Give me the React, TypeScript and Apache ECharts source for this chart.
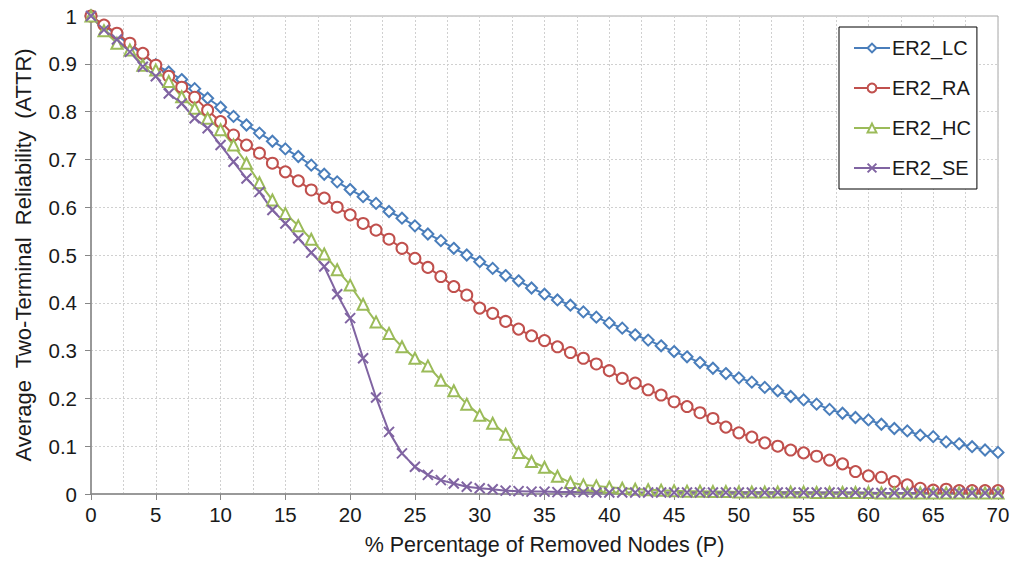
import React, { useEffect, useRef } from "react";
import * as echarts from "echarts";

const xValues: number[] = Array.from({ length: 71 }, (_, i) => i);

const lcValues: number[] = [
  1.0, 0.98, 0.96, 0.94, 0.919, 0.898, 0.883, 0.867, 0.848, 0.828,
  0.809, 0.79, 0.772, 0.755, 0.738, 0.722, 0.706, 0.688, 0.669, 0.653,
  0.637, 0.622, 0.608, 0.591, 0.577, 0.561, 0.544, 0.53, 0.514, 0.5,
  0.486, 0.472, 0.457, 0.446, 0.431, 0.418, 0.406, 0.395, 0.381, 0.37,
  0.358, 0.347, 0.333, 0.322, 0.31, 0.298, 0.287, 0.275, 0.263, 0.252,
  0.243, 0.234, 0.223, 0.216, 0.204, 0.197, 0.188, 0.177, 0.169, 0.16,
  0.155, 0.146, 0.137, 0.132, 0.123, 0.12, 0.109, 0.105, 0.099, 0.092,
  0.087,
];

const raValues: number[] = [
  1.0, 0.981, 0.964, 0.943, 0.922, 0.897, 0.874, 0.851, 0.83, 0.803,
  0.779, 0.751, 0.73, 0.713, 0.692, 0.674, 0.655, 0.636, 0.619, 0.6,
  0.584, 0.566, 0.552, 0.533, 0.514, 0.493, 0.474, 0.455, 0.434, 0.416,
  0.389, 0.378, 0.361, 0.345, 0.331, 0.321, 0.308, 0.296, 0.284, 0.272,
  0.258, 0.242, 0.232, 0.218, 0.207, 0.193, 0.183, 0.17, 0.158, 0.14,
  0.128, 0.119, 0.107, 0.1, 0.092, 0.086, 0.079, 0.071, 0.063, 0.047,
  0.038, 0.035, 0.026, 0.019, 0.012, 0.008, 0.01, 0.007, 0.007, 0.007,
  0.007,
];

const hcValues: number[] = [
  1.0, 0.969, 0.943, 0.929, 0.897, 0.887, 0.863, 0.831, 0.807, 0.786,
  0.762, 0.73, 0.692, 0.651, 0.615, 0.587, 0.561, 0.533, 0.502, 0.469,
  0.437, 0.397, 0.36, 0.336, 0.308, 0.284, 0.268, 0.238, 0.216, 0.188,
  0.165, 0.148, 0.125, 0.087, 0.068, 0.056, 0.037, 0.024, 0.019, 0.017,
  0.014, 0.012, 0.01, 0.009, 0.008, 0.007, 0.006, 0.006, 0.005, 0.005,
  0.004, 0.004, 0.004, 0.004, 0.004, 0.004, 0.003, 0.003, 0.003, 0.003,
  0.003, 0.002, 0.002, 0.002, 0.002, 0.002, 0.002, 0.002, 0.002, 0.002,
  0.002,
];

const seValues: number[] = [
  1.0, 0.971, 0.951, 0.925, 0.894, 0.874, 0.838, 0.817, 0.786, 0.765,
  0.73, 0.695, 0.66, 0.632, 0.594, 0.566, 0.535, 0.505, 0.476, 0.418,
  0.368, 0.284, 0.202, 0.13, 0.085, 0.057, 0.04, 0.029, 0.022, 0.015,
  0.012, 0.01, 0.007, 0.006, 0.005, 0.005, 0.004, 0.004, 0.004, 0.003,
  0.003, 0.003, 0.003, 0.003, 0.003, 0.003, 0.003, 0.003, 0.003, 0.003,
  0.003, 0.003, 0.003, 0.003, 0.003, 0.003, 0.003, 0.003, 0.003, 0.003,
  0.002, 0.002, 0.002, 0.002, 0.002, 0.002, 0.002, 0.002, 0.002, 0.002,
  0.002,
];

const seriesNames: string[] = ["ER2_LC", "ER2_RA", "ER2_HC", "ER2_SE"];
const seriesColors: string[] = ["#4A7EBB", "#C0504D", "#9BBB59", "#8064A2"];

const CROSS = "path://M0,0L10,10M10,0L0,10";

export default function App() {
  const ref = useRef<HTMLDivElement>(null);

  useEffect(() => {
    if (!ref.current) return;
    const chart = echarts.init(ref.current, undefined, { renderer: "svg" });
    const font = "Liberation Sans, Arial, sans-serif";
    const textColor = "#1a1a1a";
    const gridLine = { show: true, lineStyle: { color: "#d0d0d0", type: [2, 2] as any, width: 1 } };

    const all = [lcValues, raValues, hcValues, seValues];
    const symbols = ["emptyDiamond", "emptyCircle", "emptyTriangle", CROSS];
    const sizes = [11, 11, 11, 10];

    const series = all.map((vals, i) => ({
      name: seriesNames[i],
      type: "line",
      data: xValues.map((x, j) => [x, vals[j]]),
      symbol: symbols[i],
      symbolSize: sizes[i],
      showAllSymbol: true,
      lineStyle: { color: seriesColors[i], width: 2 },
      itemStyle: {
        color: i === 3 ? "none" : seriesColors[i],
        borderColor: seriesColors[i],
        borderWidth: 2,
      },
      emphasis: { disabled: true },
    }));

    chart.setOption({
      animation: false,
      backgroundColor: "#ffffff",
      textStyle: { fontFamily: font },
      grid: {
        left: 91,
        right: 16,
        top: 16,
        bottom: 73,
        show: true,
        borderColor: "#a6a6a6",
        borderWidth: 1,
      },
      legend: {
        orient: "vertical",
        left: 839,
        top: 27,
        padding: [11, 6, 11, 14],
        itemGap: 20,
        itemWidth: 36,
        itemHeight: 11,
        backgroundColor: "#ffffff",
        borderColor: "#000000",
        borderWidth: 1,
        textStyle: { fontSize: 20, color: textColor, fontFamily: font, padding: [0, 0, 0, -3] },
        data: seriesNames,
      },
      xAxis: {
        type: "value",
        min: 0,
        max: 70,
        interval: 5,
        name: "% Percentage of Removed Nodes (P)",
        nameLocation: "middle",
        nameGap: 40,
        nameTextStyle: { fontSize: 21.5, color: textColor, fontFamily: font },
        axisLine: { show: true, lineStyle: { color: "#868686", width: 1.5 } },
        axisTick: { show: true, length: 6, lineStyle: { color: "#868686" } },
        axisLabel: { fontSize: 20.5, color: textColor, margin: 10, fontFamily: font },
        splitLine: gridLine,
        minorTick: { show: false, splitNumber: 2 },
        minorSplitLine: gridLine,
      },
      yAxis: {
        type: "value",
        min: 0,
        max: 1,
        interval: 0.1,
        name: "Average  Two-Terminal  Reliability  (ATTR)",
        nameLocation: "middle",
        nameGap: 57,
        nameTextStyle: { fontSize: 22, color: textColor, fontFamily: font },
        axisLine: { show: true, lineStyle: { color: "#868686", width: 1.5 } },
        axisTick: { show: true, length: 6, lineStyle: { color: "#868686" } },
        axisLabel: {
          fontSize: 20.5,
          color: textColor,
          margin: 14,
          fontFamily: font,
          formatter: (v: number) => String(parseFloat(v.toFixed(1))),
        },
        splitLine: gridLine,
      },
      series,
    });

    return () => chart.dispose();
  }, []);

  return (
    <div
      ref={ref}
      style={{ position: "fixed", left: 0, top: 0, width: 1014, height: 567, background: "#fff" }}
    />
  );
}
